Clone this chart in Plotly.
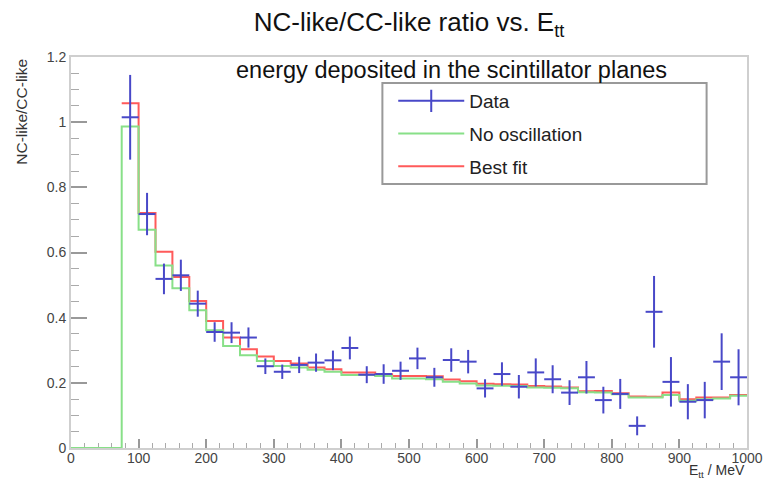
import plotly.graph_objects as go

# ---- data ----
bin_width = 25
bin_edges = [i * bin_width for i in range(41)]  # 0 ... 1000 MeV

no_osc = [0.0, 0.0, 0.0,
          0.987, 0.670, 0.560, 0.490, 0.423, 0.361, 0.313, 0.285, 0.267, 0.252,
          0.247, 0.240, 0.234, 0.224, 0.224, 0.221, 0.213,
          0.213, 0.211, 0.203, 0.198, 0.192, 0.191, 0.190, 0.186, 0.185, 0.183,
          0.171, 0.170, 0.165, 0.155, 0.155, 0.163, 0.145, 0.150, 0.152, 0.160]

best_fit = [0.0, 0.0, 0.0,
            1.058, 0.721, 0.602, 0.525, 0.451, 0.390, 0.339, 0.303, 0.281, 0.267,
            0.259, 0.247, 0.242, 0.232, 0.232, 0.226, 0.221,
            0.221, 0.220, 0.210, 0.205, 0.197, 0.196, 0.195, 0.190, 0.189, 0.186,
            0.174, 0.175, 0.168, 0.158, 0.157, 0.170, 0.150, 0.155, 0.155, 0.163]

data_centers = [87.5 + 25 * i for i in range(37)]
data_vals = [1.015, 0.718, 0.519, 0.530, 0.443, 0.356, 0.354, 0.339, 0.251, 0.234,
             0.255, 0.262, 0.269, 0.307, 0.225, 0.227, 0.237, 0.275, 0.217, 0.270,
             0.265, 0.183, 0.227, 0.188, 0.232, 0.211, 0.170, 0.217, 0.147, 0.166,
             0.068, 0.418, 0.203, 0.142, 0.147, 0.265, 0.217]
data_errs = [0.130, 0.065, 0.047, 0.048, 0.040, 0.030, 0.032, 0.031, 0.024, 0.022,
             0.025, 0.028, 0.030, 0.035, 0.026, 0.030, 0.028, 0.033, 0.029, 0.036,
             0.036, 0.028, 0.036, 0.036, 0.043, 0.043, 0.038, 0.050, 0.041, 0.046,
             0.029, 0.110, 0.076, 0.054, 0.056, 0.087, 0.086]

BLUE = "#4848c8"
GREEN = "#88e088"
RED = "#ff5a5a"
FONT = "Liberation Sans, Arial, sans-serif"


def step_xy(vals, skip_empty=False):
    start = 0
    if skip_empty:
        while start < len(vals) and vals[start] == 0:
            start += 1
    xs = bin_edges[start:]
    ys = vals[start:] + [vals[-1]]
    return xs, ys


fig = go.Figure()

rx, ry = step_xy(best_fit, skip_empty=True)
fig.add_trace(go.Scatter(x=rx, y=ry, mode="lines", line=dict(color=RED, width=2, shape="hv"),
                         name="Best fit", legendgroup="c", legendrank=3))
gx, gy = step_xy(no_osc)
fig.add_trace(go.Scatter(x=gx, y=gy, mode="lines", line=dict(color=GREEN, width=2, shape="hv"),
                         name="No oscillation", legendgroup="b", legendrank=2))
fig.add_trace(go.Scatter(
    x=data_centers, y=data_vals, mode="markers",
    marker=dict(size=1, color=BLUE, opacity=0),
    error_x=dict(type="constant", value=bin_width / 2, color=BLUE, thickness=2, width=0),
    error_y=dict(type="data", array=data_errs, color=BLUE, thickness=2, width=0),
    name="Data", showlegend=False, legendgroup="a"))
# legend entry for data (line with vertical error tick)
fig.add_trace(go.Scatter(x=[None], y=[None], mode="lines+markers",
                         line=dict(color=BLUE, width=2),
                         marker=dict(symbol="line-ns", size=20, line=dict(color=BLUE, width=2)),
                         name="Data", legendgroup="a", legendrank=1))

L, R, T, B = 71, 18, 57, 32
W, H = 775, 480
pw, ph = W - L - R, H - T - B


def px_x(x):
    return (x - L) / pw


def px_y(y):
    return (H - B - y) / ph


fig.update_layout(
    width=W, height=H,
    margin=dict(l=L, r=R, t=T, b=B),
    paper_bgcolor="white", plot_bgcolor="white",
    font=dict(family=FONT, color="#222222"),
    title=dict(text="NC-like/CC-like ratio vs. E<sub>tt</sub>", x=0.5, xref="paper",
               y=1 - 22 / H, yanchor="middle", font=dict(size=26, color="#111111")),
    xaxis=dict(range=[0, 1000], showgrid=False, zeroline=False, layer="below traces",
               showline=True, mirror=True, linecolor="#cfcfcf", linewidth=2,
               ticks="inside", ticklen=9, tickwidth=1.5, tickcolor="#999999",
               dtick=100, tick0=0, ticklabelstandoff=-4,
               minor=dict(dtick=20, ticks="inside", ticklen=5, tickcolor="#aaaaaa", tickwidth=1),
               tickfont=dict(size=14, color="#444444")),
    yaxis=dict(range=[0, 1.2], showgrid=False, zeroline=False, layer="below traces",
               showline=True, mirror=True, linecolor="#cfcfcf", linewidth=2,
               ticks="inside", ticklen=16, tickwidth=1.5, tickcolor="#999999",
               dtick=0.2, tick0=0, tickformat="~g",
               minor=dict(dtick=0.05, ticks="inside", ticklen=8, tickcolor="#aaaaaa", tickwidth=1),
               tickfont=dict(size=14, color="#444444")),
    legend=dict(x=px_x(398), y=px_y(82), xanchor="left", yanchor="top",
                bgcolor="rgba(0,0,0,0)", borderwidth=0,
                font=dict(size=19, color="#222222"), itemwidth=66,
                tracegroupgap=5, traceorder="grouped"),
    shapes=[dict(type="rect", xref="paper", yref="paper",
                 x0=px_x(387), x1=px_x(716), y0=px_y(184), y1=px_y(83),
                 line=dict(color="#999999", width=2), fillcolor="white", layer="below")],
    annotations=[
        dict(text="energy deposited in the scintillator planes", xref="paper", yref="paper",
             x=px_x(457), y=px_y(70), xanchor="center", yanchor="middle", showarrow=False,
             font=dict(size=23.5, color="#111111")),
        dict(text="NC-like/CC-like", xref="paper", yref="paper", textangle=-90,
             x=px_x(20), y=1, xanchor="center", yanchor="top", showarrow=False,
             font=dict(size=15.5, color="#333333")),
        dict(text="E<sub>tt</sub> / MeV", xref="paper", yref="paper",
             x=1, y=px_y(471), xanchor="right", yanchor="middle", showarrow=False,
             font=dict(size=14, color="#333333")),
    ],
)

fig.write_html("out.html")
